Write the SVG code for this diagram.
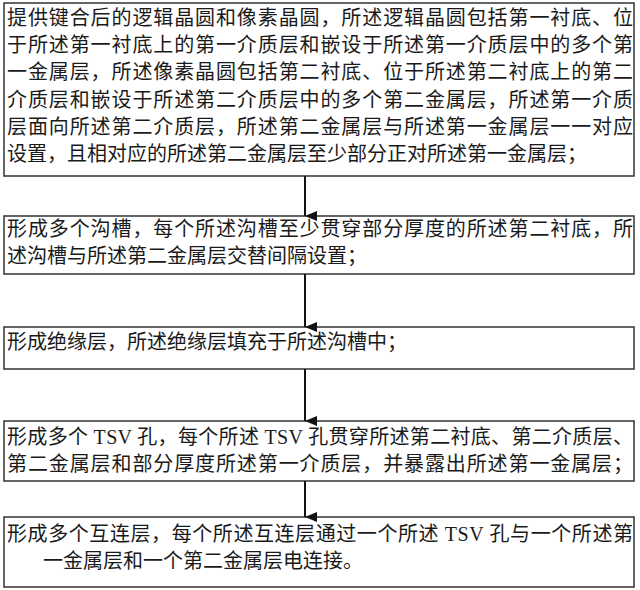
<svg xmlns="http://www.w3.org/2000/svg" width="640" height="590" viewBox="0 0 640 590">
<defs>
<style>
.box{fill:#fff;stroke:#333;stroke-width:1.5}
.t{font-family:"Liberation Serif","Noto Sans CJK SC",serif;font-size:20px;fill:#1a1a1a}
.c{stroke:#111;stroke-width:2;fill:none}
</style>
<marker id="ah" markerWidth="10" markerHeight="12" refX="5" refY="12" orient="auto" markerUnits="userSpaceOnUse" viewBox="0 0 10 12">
<path d="M0,0 L10,0 L5,12 Z" fill="#111"/>
</marker>
</defs>
<rect width="640" height="590" fill="#fff"/>
<g id="step1">
<rect class="box" x="4" y="3" width="630" height="173"/>
<text class="t" x="7" y="25" textLength="626" lengthAdjust="spacing">提供键合后的逻辑晶圆和像素晶圆，所述逻辑晶圆包括第一衬底、位</text>
<text class="t" x="7" y="52" textLength="626" lengthAdjust="spacing">于所述第一衬底上的第一介质层和嵌设于所述第一介质层中的多个第</text>
<text class="t" x="7" y="79" textLength="626" lengthAdjust="spacing">一金属层，所述像素晶圆包括第二衬底、位于所述第二衬底上的第二</text>
<text class="t" x="7" y="107" textLength="626" lengthAdjust="spacing">介质层和嵌设于所述第二介质层中的多个第二金属层，所述第一介质</text>
<text class="t" x="7" y="134" textLength="626" lengthAdjust="spacing">层面向所述第二介质层，所述第二金属层与所述第一金属层一一对应</text>
<text class="t" x="7" y="161">设置，且相对应的所述第二金属层至少部分正对所述第一金属层；</text>
</g>
<g id="step2">
<rect class="box" x="4" y="216" width="630" height="58"/>
<text class="t" x="7" y="236" textLength="626" lengthAdjust="spacing">形成多个沟槽，每个所述沟槽至少贯穿部分厚度的所述第二衬底，所</text>
<text class="t" x="7" y="263">述沟槽与所述第二金属层交替间隔设置；</text>
</g>
<g id="step3">
<rect class="box" x="4" y="327" width="630" height="42"/>
<text class="t" x="7" y="349">形成绝缘层，所述绝缘层填充于所述沟槽中；</text>
</g>
<g id="step4">
<rect class="box" x="4" y="421" width="630" height="60"/>
<text class="t" x="7" y="444" textLength="626" lengthAdjust="spacing">形成多个 TSV 孔，每个所述 TSV 孔贯穿所述第二衬底、第二介质层、</text>
<text class="t" x="7" y="471" textLength="626" lengthAdjust="spacing">第二金属层和部分厚度所述第一介质层，并暴露出所述第一金属层；</text>
</g>
<g id="step5">
<rect class="box" x="4" y="517" width="630" height="70"/>
<text class="t" x="7" y="541" textLength="626" lengthAdjust="spacing">形成多个互连层，每个所述互连层通过一个所述 TSV 孔与一个所述第</text>
<text class="t" x="43" y="568">一金属层和一个第二金属层电连接。</text>
</g>
<g id="connectors">
<line class="c" x1="305" y1="176" x2="305" y2="216" marker-end="url(#ah)"/>
<line class="c" x1="305" y1="274" x2="305" y2="327" marker-end="url(#ah)"/>
<line class="c" x1="305" y1="369" x2="305" y2="421" marker-end="url(#ah)"/>
<line class="c" x1="305" y1="481" x2="305" y2="517" marker-end="url(#ah)"/>
</g>
</svg>
